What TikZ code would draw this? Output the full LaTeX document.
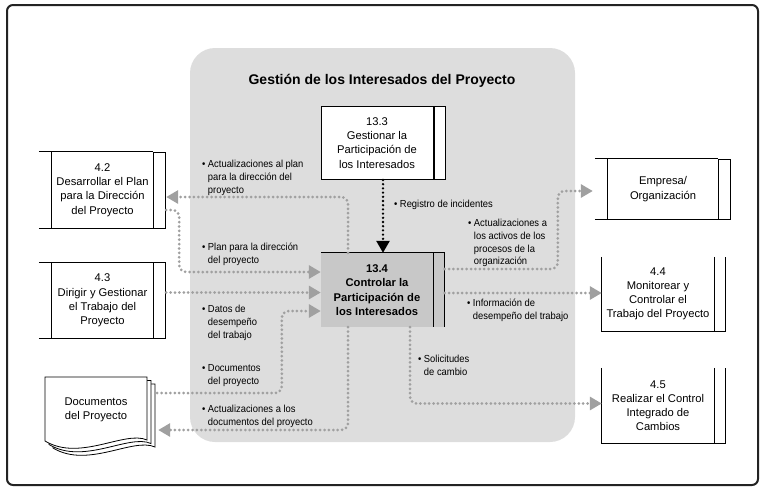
\documentclass[tikz,border=0pt]{standalone}
\usepackage{fontspec}
\setmainfont{Liberation Sans}
\newfontfamily\labfont[FakeStretch=0.92]{Liberation Sans}
\usetikzlibrary{arrows.meta}
\definecolor{panelgray}{RGB}{221,221,221}
\definecolor{boxgray}{RGB}{200,200,200}
\definecolor{dotgray}{RGB}{160,160,160}
\definecolor{framecol}{RGB}{35,35,35}
\begin{document}
\begin{tikzpicture}[x=1pt,y=-1pt,
  boxtext/.style={font=\fontsize{11.2}{14.2}\selectfont, align=center, inner sep=0pt},
  boldtext/.style={font=\bfseries\fontsize{11.2}{14.4}\selectfont, align=center, inner sep=0pt},
  boxline/.style={draw=black, line width=1pt},
  cellbox/.style={inner sep=0pt, minimum width=11pt},
  lab/.style={font=\labfont\fontsize{10.2}{12.8}\selectfont, inner sep=0pt, anchor=base west},
  conn/.style={draw=dotgray, line width=3pt, line cap=round, dash pattern=on 0pt off 4.4pt,
    rounded corners=7pt, -{Triangle[length=12pt,width=13pt]}},
  blackconn/.style={draw=black, line width=2.6pt, line cap=round, dash pattern=on 0pt off 4.2pt,
    -{Triangle[length=12pt,width=13pt]}},
  docpage/.style={draw=black, line width=0.8pt, fill=white}
]
\useasboundingbox (0,0) rectangle (767,493);
% outer frame
\draw[draw=framecol, line width=2pt, rounded corners=6pt] (7,5) rectangle (758,485);
% panel
\fill[panelgray, rounded corners=25pt] (190,48) rectangle (575,442);
\node[font=\bfseries\fontsize{14}{16}\selectfont] (title) at (382,81) {Gestión de los Interesados del Proyecto};

% 13.3
\node[boxtext, boxline, fill=white, minimum width=112pt, minimum height=73pt] (p133) at (377,143)
  {13.3\\Gestionar la\\Participación de\\los Interesados};
\node[cellbox, boxline, fill=white, minimum height=73pt, anchor=west] (p133c) at (p133.east) {};

% 13.4
\node[boldtext, fill=boxgray, minimum width=112pt, minimum height=74pt] (p134) at (377,290)
  {13.4\\Controlar la\\Participación de\\los Interesados};
\node[cellbox, fill=boxgray, minimum height=74pt, anchor=west] (p134c) at (p134.east) {};
\draw[boxline] (p134.north west) -- (p134c.north east) -- (p134c.south east)
  (p134c.north west) -- (p134c.south west);

% 4.2
\node[boxtext, minimum width=101pt, minimum height=76pt] (p42) at (102.5,190)
  {4.2\\Desarrollar el Plan\\para la Dirección\\del Proyecto};
\node[cellbox, boxline, minimum width=12pt, minimum height=76pt, anchor=west] (p42c) at (p42.east) {};
\draw[boxline] ([xshift=-13pt]p42.north west) -- (p42.north east)
  ([xshift=-13pt]p42.south west) -- (p42.south east) (p42.north west) -- (p42.south west);

% 4.3
\node[boxtext, minimum width=101pt, minimum height=76pt] (p43) at (102.5,300.5)
  {4.3\\Dirigir y Gestionar\\el Trabajo del\\Proyecto};
\node[cellbox, boxline, minimum width=12pt, minimum height=76pt, anchor=west] (p43c) at (p43.east) {};
\draw[boxline] ([xshift=-13pt]p43.north west) -- (p43.north east)
  ([xshift=-13pt]p43.south west) -- (p43.south east) (p43.north west) -- (p43.south west);

% Empresa
\node[boxtext, minimum width=110pt, minimum height=60pt] (emp) at (663,189)
  {Empresa/\\Organización};
\node[cellbox, boxline, minimum width=12pt, minimum height=60pt, anchor=west] (empc) at (emp.east) {};
\draw[boxline] ([xshift=-13pt]emp.north west) -- (emp.north east)
  ([xshift=-13pt]emp.south west) -- (emp.south east) (emp.north west) -- (emp.south west);

% 4.4
\node[boxtext, minimum width=112pt, minimum height=74pt] (p44) at (658,294)
  {4.4\\Monitorear y\\Controlar el\\Trabajo del Proyecto};
\node[cellbox, minimum height=74pt, anchor=west] (p44c) at (p44.east) {};
\draw[boxline] (p44.north west) -- (p44.south west) -- (p44c.south east) -- (p44c.north east)
  (p44c.north west) -- (p44c.south west);

% 4.5
\node[boxtext, minimum width=112pt, minimum height=75pt] (p45) at (658,405.5)
  {4.5\\Realizar el Control\\Integrado de\\Cambios};
\node[cellbox, minimum height=75pt, anchor=west] (p45c) at (p45.east) {};
\draw[boxline] (p45.north west) -- (p45.south west) -- (p45c.south east) -- (p45c.north east)
  (p45c.north west) -- (p45c.south west);

% Documentos del Proyecto (stack of pages)
\begin{scope}[shift={(8,7)}]
  \draw[docpage] (45,377) -- (147,377) -- (147,440) .. controls (125,430) and (80,462) .. (45,441) -- cycle;
\end{scope}
\begin{scope}[shift={(4,3.5)}]
  \draw[docpage] (45,377) -- (147,377) -- (147,440) .. controls (125,430) and (80,462) .. (45,441) -- cycle;
\end{scope}
\draw[docpage] (45,377) -- (147,377) -- (147,440) .. controls (125,430) and (80,462) .. (45,441) -- cycle;
\node[boxtext, minimum width=102pt, minimum height=66pt] (docs) at (96,410)
  {Documentos\\del Proyecto};

% connectors
\draw[conn] ([xshift=-29pt]p134.north) |- ([yshift=-7pt]p42c.east);
\draw[conn] ([yshift=-20pt]p42c.east) -- ++(13,0) |- ([yshift=18pt]p134.west);
\draw[conn] ([yshift=8pt]p43c.east) -- ([yshift=8pt]p43c.east -| p134.west);
\draw[conn] ([xshift=10pt,yshift=17pt]docs.east) -| ([xshift=-39pt,yshift=-21pt]p134.west) -- ([yshift=-21pt]p134.west);
\draw[conn] ([xshift=-29pt]p134.south) |- ([xshift=11pt,yshift=-20pt]docs.east);
\draw[conn] ([yshift=21pt]p134c.east) -| ([xshift=-50pt,yshift=-2pt]emp.west) -- ([xshift=-15pt,yshift=-2pt]emp.west);
\draw[conn] ([yshift=-3pt]p134c.east) -- ([yshift=-3pt]p134c.east -| p44.west);
\draw[conn] ([xshift=33pt]p134.south) |- ([yshift=2pt]p45.west);
\draw[blackconn] ([xshift=6pt]p133.south) -- ([xshift=6pt]p134.north);

% labels
\node[lab] (l1) at (202,167.5) {\begin{tabular}[t]{@{}l@{\hspace{2.5pt}}l@{}}\textbullet & Actualizaciones al plan\\ & para la dirección del\\ & proyecto\end{tabular}};
\node[lab] (l2) at (202,250.5) {\begin{tabular}[t]{@{}l@{\hspace{2.5pt}}l@{}}\textbullet & Plan para la dirección\\ & del proyecto\end{tabular}};
\node[lab] (l3) at (202,312.5) {\begin{tabular}[t]{@{}l@{\hspace{2.5pt}}l@{}}\textbullet & Datos de\\ & desempeño\\ & del trabajo\end{tabular}};
\node[lab] (l4) at (202,371.5) {\begin{tabular}[t]{@{}l@{\hspace{2.5pt}}l@{}}\textbullet & Documentos\\ & del proyecto\end{tabular}};
\node[lab] (l5) at (202,412.5) {\begin{tabular}[t]{@{}l@{\hspace{2.5pt}}l@{}}\textbullet & Actualizaciones a los\\ & documentos del proyecto\end{tabular}};
\node[lab] (l6) at (394,207.5) {\begin{tabular}[t]{@{}l@{\hspace{2.5pt}}l@{}}\textbullet & Registro de incidentes\end{tabular}};
\node[lab] (l7) at (468,226.5) {\begin{tabular}[t]{@{}l@{\hspace{2.5pt}}l@{}}\textbullet & Actualizaciones a\\ & los activos de los\\ & procesos de la\\ & organización\end{tabular}};
\node[lab] (l8) at (467,306.5) {\begin{tabular}[t]{@{}l@{\hspace{2.5pt}}l@{}}\textbullet & Información de\\ & desempeño del trabajo\end{tabular}};
\node[lab] (l9) at (418,362.5) {\begin{tabular}[t]{@{}l@{\hspace{2.5pt}}l@{}}\textbullet & Solicitudes\\ & de cambio\end{tabular}};
\end{tikzpicture}
\end{document}
